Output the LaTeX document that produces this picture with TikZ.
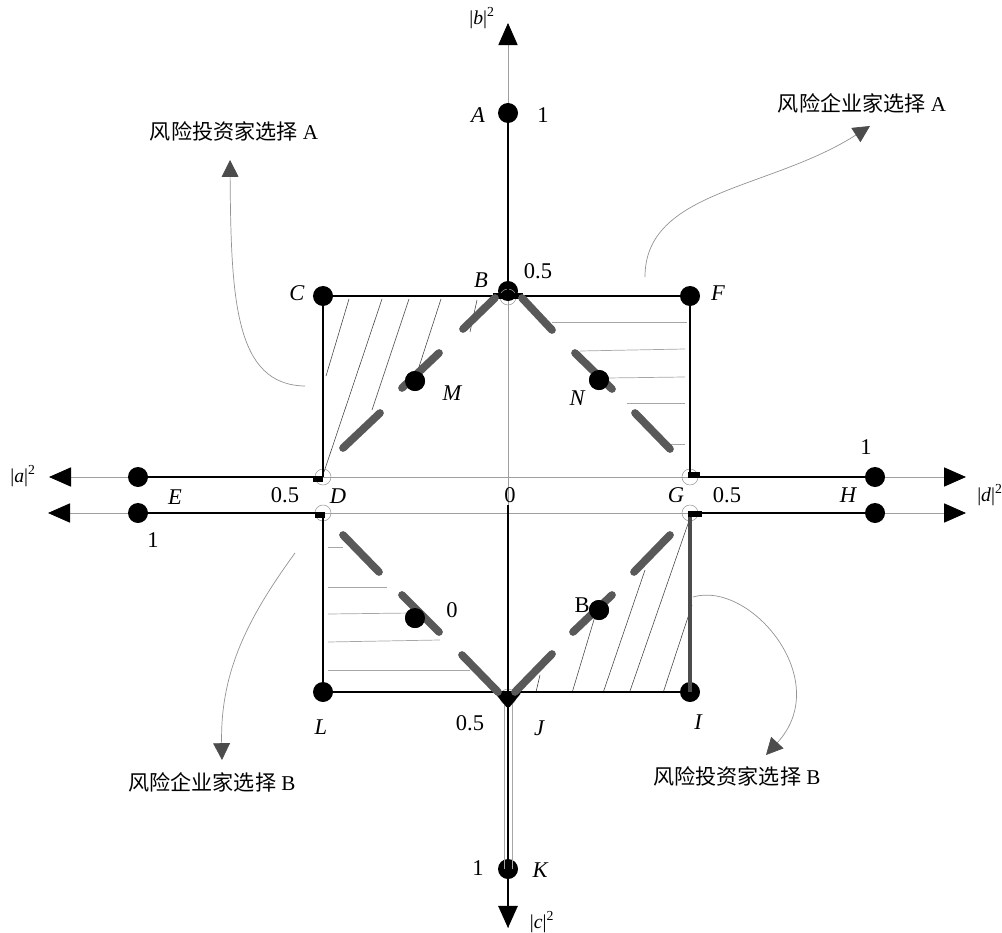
\documentclass[tikz,border=0pt]{standalone}
\usepackage{fontspec}
\setmainfont{Liberation Serif}
\newfontfamily\cjk{Noto Sans CJK SC}
\usetikzlibrary{arrows.meta,calc}
\begin{document}
\begin{tikzpicture}[x=0.025cm,y=-0.025cm,
 >={Triangle[length=0.55cm,width=0.48cm,color=black,fill=black]},
 txt/.style={font=\fontsize{16}{19}\selectfont, inner sep=0pt},
 itxt/.style={font=\fontsize{16}{19}\selectfont\itshape, inner sep=0pt},
 axtxt/.style={font=\fontsize{14}{16}\selectfont, inner sep=0pt},
 cjktxt/.style={font=\fontsize{15}{18}\selectfont, inner sep=0pt},
 dot/.style={circle, fill=black, inner sep=0pt, minimum size=0.5cm},
 ring/.style={circle, draw=gray!80, line width=0.4pt, inner sep=0pt, minimum size=0.4cm},
 axisline/.style={draw=gray!75, line width=0.6pt},
 boxedge/.style={draw=black, line width=1.4pt},
 axseg/.style={draw=black, line width=2pt},
 heavy/.style={draw=black!65, line width=5.5pt, line cap=round},
 hatchd/.style={draw=black!75, line width=0.4pt},
 hatchg/.style={draw=gray!70, line width=0.5pt},
 callout/.style={draw=gray!85, line width=0.5pt, -{Triangle[length=0.42cm,width=0.42cm,color=black!70,fill=black!70]}},
]
\useasboundingbox (0,0) rectangle (1002,933);

% ---- key coordinates
\coordinate (aT) at (508,23);
\coordinate (aB) at (508,928);
\coordinate (aL1) at (49,477);
\coordinate (aR1) at (966,477);
\coordinate (aL2) at (48,513);
\coordinate (aR2) at (966,513);
\coordinate (D1) at (323,477);
\coordinate (D2) at (323,513);
\coordinate (G1) at (690,477);
\coordinate (G2) at (690,513);
\coordinate (Bc) at (508,297);
\coordinate (Jc) at (508,697);
\coordinate (Vs) at (508,505);

% ---- hatching
\draw[hatchd] (349,299) -- (326,376);
\draw[hatchd] (382,299) -- (324,472);
\draw[hatchd] (409,299) -- (372,410);
\draw[hatchd] (441,299) -- (418,370);
\draw[hatchd] (477,300) -- (470,332);

\draw[hatchg] (552,322) -- (687,322);
\draw[hatchg] (580,351) -- (685,349);
\draw[hatchg] (607,378) -- (685,377);
\draw[hatchg] (627,403) -- (685,403);
\draw[hatchg] (670,444) -- (685,444);

\draw[hatchg] (328,547) -- (343,547);
\draw[hatchg] (328,587) -- (387,587);
\draw[hatchg] (328,614) -- (413,613);
\draw[hatchg] (328,642) -- (440,640);
\draw[hatchg] (328,670) -- (470,670);

\draw[hatchd] (536,692) -- (540,675);
\draw[hatchd] (572,693) -- (596,613);
\draw[hatchd] (603,693) -- (645,570);
\draw[hatchd] (630,691) -- (690,518);
\draw[hatchd] (663,693) -- (692,605);

% ---- axes (thin gray)
\draw[axisline,->] (Vs) -- (aT);
\draw[axisline] (Vs) -- (aB);
\draw[axisline,<->] (aL1) -- (aR1);
\draw[axisline,<->] (aL2) -- (aR2);

% ---- dots
\node[dot] (A) at (508,113) {};
\node[dot] (B) at (508,291) {};
\node[dot] (C) at (323,296) {};
\node[dot] (F) at (690,296) {};
\node[dot] (E1) at (138,477) {};
\node[dot] (E2) at (138,513) {};
\node[dot] (H1) at (875,477) {};
\node[dot] (H2) at (875,513) {};
\node[dot] (L) at (323,692) {};
\node[dot] (I) at (690,692) {};
\node[dot] (K) at (508,869) {};
\node[dot] (M) at (415,381) {};
\node[dot] (N) at (599,380) {};
\node[dot] (O) at (415,618) {};
\node[dot] (Bb) at (599,610) {};

% ---- rings
\node[ring] (rB) at (Bc) {};
\node[ring] (rD1) at (D1) {};
\node[ring] (rD2) at (D2) {};
\node[ring] (rG1) at (G1) {};
\node[ring] (rG2) at (G2) {};
\node[ring] (rJ) at (Jc) {};

% ---- black segments
\draw[axseg] (A.center) -- (B.center);
\draw[boxedge] (C.center) -- (F.center);
\draw[boxedge] (C.center) -- (D1);
\draw[boxedge] (F.center) -- (G1);
\draw[axseg] (E1.center) -- (D1);
\draw[axseg] (E2.center) -- (D2);
\draw[axseg] (G1) -- (H1.center);
\draw[axseg] (G2) -- (H2.center);
\draw[boxedge] (D2) -- (L.center);
\draw[boxedge] (L.center) -- (I.center);
\draw[draw=black!70, line width=2.8pt] (G2) -- (I.center);
\draw[boxedge] (Vs) -- (Jc);
\draw[hatchg] ($(Jc)+(-4,4)$) -- ($(K.center)+(-4,0)$);
\draw[hatchg] ($(Jc)+(4,4)$) -- ($(K.center)+(4,0)$);
\draw[boxedge] (Jc) -- (K.center);
\draw[boxedge,->] (K.center) -- (aB);

% small corner marks
\fill (313,476) rectangle (323,482);
\fill (315,512) rectangle (325,518);
\fill (688,472) rectangle (700,478);
\fill (688,511) rectangle (702,517);
\fill (493,293) rectangle (523,299);
\fill[rounded corners=2pt] (494,692) -- (522,692) -- (508,709) -- cycle;

% ---- heavy dashed diagonals
\draw[heavy] (343,448) -- (380,413);
\draw[heavy] (402,388) -- (439,353);
\draw[heavy] (463,329) -- (495,298);

\draw[heavy] (522,298) -- (552,330);
\draw[heavy] (575,353) -- (612,389);
\draw[heavy] (635,413) -- (670,449);

\draw[heavy] (343,535) -- (379,572);
\draw[heavy] (402,595) -- (439,632);
\draw[heavy] (462,655) -- (498,692);

\draw[heavy] (670,535) -- (634,572);
\draw[heavy] (612,595) -- (573,632);
\draw[heavy] (552,654) -- (515,692);

% redraw diagonal dots on top
\node[dot] at (M) {};
\node[dot] at (N) {};
\node[dot] at (O) {};
\node[dot] at (Bb) {};

% ---- labels
\node[axtxt] (lb) at (482,18) {|{\itshape b}|\textsuperscript{2}};
\node[axtxt] (la) at (23,476) {|{\itshape a}|\textsuperscript{2}};
\node[axtxt, anchor=west] (ld) at (977,495) {|{\itshape d}|\textsuperscript{2}};
\node[axtxt] (lc) at (542,922) {|{\itshape c}|\textsuperscript{2}};

\node[itxt] (tA) at (478,115) {A};
\node[txt] (t1a) at (543,115) {1};
\node[itxt] (tC) at (297,293) {C};
\node[itxt] (tF) at (718,293) {F};
\node[itxt] (tB) at (481,280) {B};
\node[txt] (t05a) at (538,271) {0.5};
\node[itxt] (tM) at (452,393) {M};
\node[itxt] (tN) at (577,398) {N};
\node[txt] (t1b) at (866,447) {1};
\node[itxt] (tE) at (175,497) {E};
\node[txt] (t05b) at (285,495) {0.5};
\node[itxt] (tD) at (338,496) {D};
\node[txt] (t0) at (510,495) {0};
\node[itxt] (tG) at (676,495) {G};
\node[txt] (t05c) at (727,495) {0.5};
\node[itxt] (tH) at (848,495) {H};
\node[txt] (t1c) at (153,540) {1};
\node[txt] (t0b) at (452,610) {0};
\node[txt] (tBb) at (582,605) {B};
\node[itxt] (tL) at (321,727) {L};
\node[txt] (t05d) at (470,723) {0.5};
\node[itxt] (tJ) at (539,728) {J};
\node[itxt] (tI) at (698,722) {I};
\node[txt] (t1d) at (478,868) {1};
\node[itxt] (tK) at (540,870) {K};

\node[cjktxt] (q1) at (234,131) {{\cjk 风险投资家选择} A};
\node[cjktxt] (q2) at (862,103) {{\cjk 风险企业家选择} A};
\node[cjktxt] (q3) at (212,782) {{\cjk 风险企业家选择} B};
\node[cjktxt] (q4) at (737,776) {{\cjk 风险投资家选择} B};

% ---- callout curves
\coordinate (c1s) at (305,386);
\coordinate (c1e) at (230,160);
\draw[callout] (c1s) .. controls (235,385) and (231,300) .. (c1e);
\coordinate (c2s) at (645,277);
\coordinate (c2e) at (870,126);
\draw[callout] (c2s) .. controls (645,190) and (770,190) .. (c2e);
\coordinate (c3s) at (295,553);
\coordinate (c3e) at (222,760);
\draw[callout] (c3s) .. controls (250,615) and (220,670) .. (c3e);
\coordinate (c4s) at (693,597);
\coordinate (c4e) at (766,755);
\draw[callout] (c4s) .. controls (750,580) and (835,680) .. (c4e);
\end{tikzpicture}
\end{document}
